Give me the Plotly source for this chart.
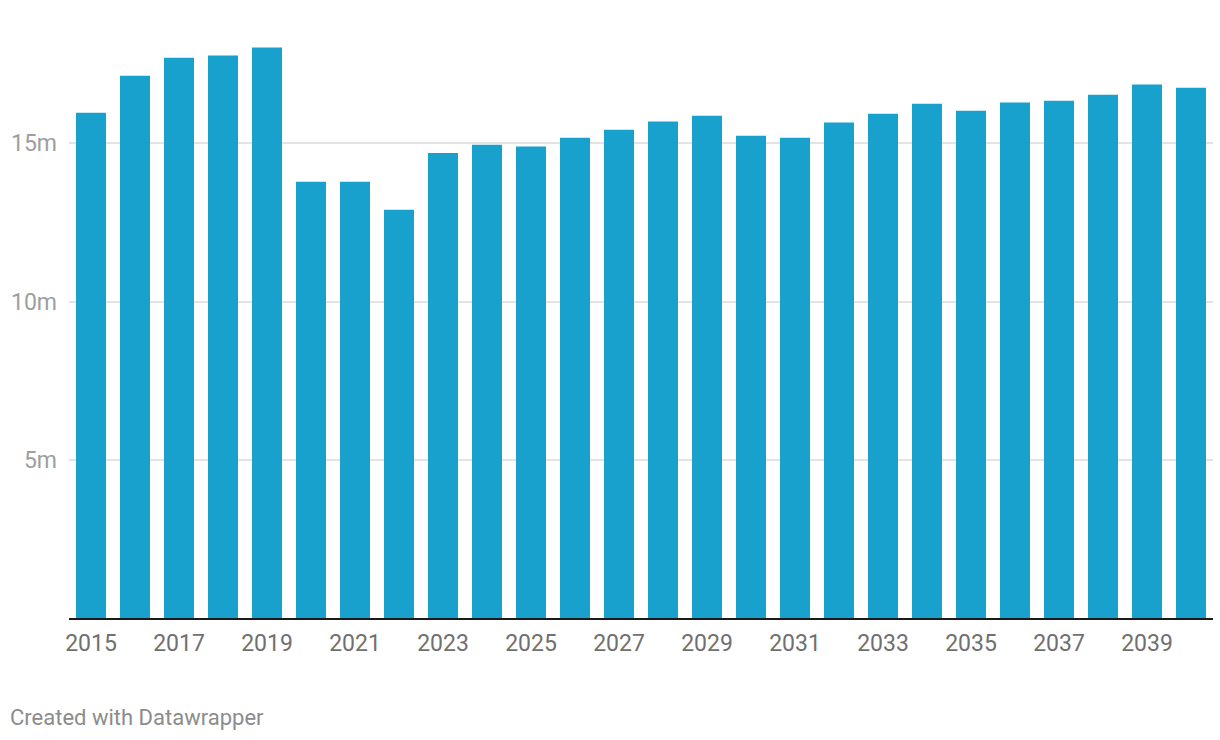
import plotly.graph_objects as go

years = [str(y) for y in range(2015, 2041)]
values_m = [15.97, 17.14, 17.71, 17.78, 18.03, 13.79, 13.79, 12.90, 14.70, 14.96,
            14.90, 15.18, 15.43, 15.69, 15.87, 15.24, 15.18, 15.66, 15.94, 16.25,
            16.03, 16.29, 16.35, 16.54, 16.86, 16.76]
values = [v * 1e6 for v in values_m]
x_tick_labels = [str(y) for y in range(2015, 2041, 2)]
y_tick_vals = [5e6, 10e6, 15e6]
y_tick_text = ["5m", "10m", "15m"]

fig = go.Figure()
fig.add_trace(go.Bar(x=years, y=values, marker=dict(color="#18a1cd", line=dict(width=0)),
                     hoverinfo="x+y"))

fig.update_layout(
    width=1220, height=740,
    margin=dict(l=69, r=7, t=20, b=122, autoexpand=False),
    plot_bgcolor="white", paper_bgcolor="white",
    bargap=0.318,
    showlegend=False,
    font=dict(family="Roboto", color="#707070", size=23),
    xaxis=dict(type="category", tickvals=x_tick_labels, ticktext=x_tick_labels,
               showgrid=False, showline=True, linecolor="#1a1a1a", linewidth=2,
               ticks="", ticklabelstandoff=3, range=[-0.5, 25.5], automargin=False,
               tickfont=dict(size=23, color="#707070")),
    yaxis=dict(range=[0, 18.9e6], tickvals=y_tick_vals, ticktext=y_tick_text,
               showgrid=True, gridcolor="#e3e3e3", gridwidth=1.5, zeroline=False,
               ticks="", ticklabelstandoff=11, showline=False, automargin=False,
               tickfont=dict(size=23, color="#9e9e9e")),
    annotations=[dict(text="Created with Datawrapper", xref="paper", yref="paper",
                      x=0, y=0, xanchor="left", yanchor="middle",
                      xshift=-61, yshift=-(717 - 618),
                      showarrow=False, font=dict(family="Roboto", size=22, color="#8c8c8c"))],
)

fig.write_html("out.html",
               config={"displayModeBar": False},
               post_script="document.body.style.margin='0';document.body.style.overflow='hidden';")
